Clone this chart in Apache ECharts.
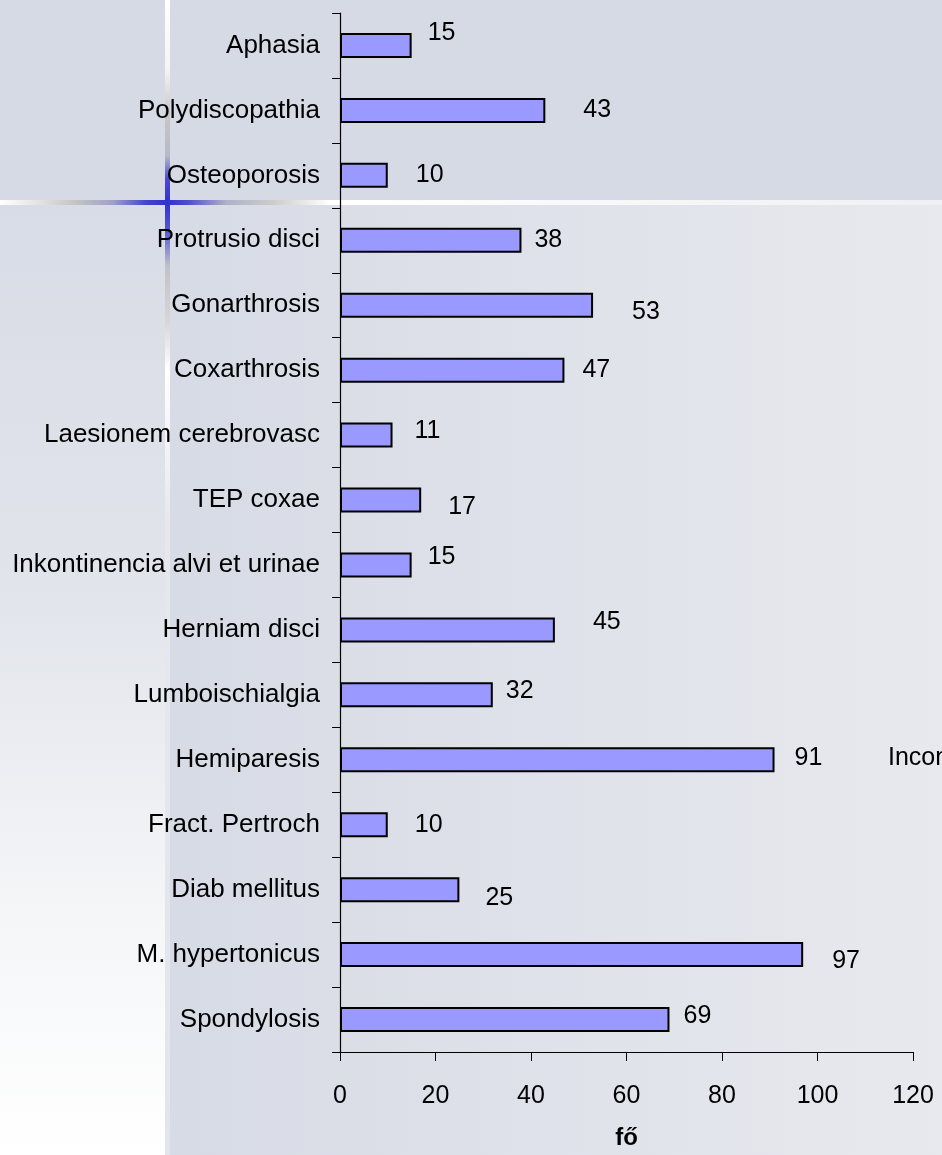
<!DOCTYPE html>
<html>
<head>
<meta charset="utf-8">
<script src="https://cdn.jsdelivr.net/npm/echarts@6/dist/echarts.min.js"></script>
<style>
  html, body { margin: 0; padding: 0; }
  #chart { width: 942px; height: 1155px; }
</style>
</head>
<body>
<div id="chart"></div>
<script>
// categories top to bottom
var categories = [
  'Aphasia', 'Polydiscopathia', 'Osteoporosis', 'Protrusio disci', 'Gonarthrosis',
  'Coxarthrosis', 'Laesionem cerebrovasc', 'TEP coxae', 'Inkontinencia alvi et urinae',
  'Herniam disci', 'Lumboischialgia', 'Hemiparesis', 'Fract. Pertroch', 'Diab mellitus',
  'M. hypertonicus', 'Spondylosis'
];
var values = [15, 43, 10, 38, 53, 47, 11, 17, 15, 45, 32, 91, 10, 25, 97, 69];
var xTicks = [0, 20, 40, 60, 80, 100, 120];
var axisTitle = 'fő';
var strayText = 'Incontinentia';

// label nudges (as in the original, labels sit at uneven spots)
var labelNudge = [
  [16, -12], [38, 0], [28, 0], [13, 0], [39, 7], [18, 0], [22, -4], [27, 7],
  [16, -8], [38, -8], [13, -4], [20, -2], [27, 0], [26, 8], [29, 7], [14, -3]
];

var font = 'Liberation Sans, Arial, sans-serif';

var barData = values.map(function (v, i) {
  return {
    value: v,
    label: { offset: labelNudge[i] }
  };
});

var chart = echarts.init(document.getElementById('chart'));
chart.setOption({
  animation: false,
  textStyle: { fontFamily: font },
  graphic: [
    // slide background
    { type: 'rect', z: -100, shape: { x: 0, y: 0, width: 942, height: 1155 }, style: { fill: '#d7dbe5' } },
    {
      type: 'rect', z: -99, shape: { x: 170, y: 205, width: 772, height: 950 },
      style: { fill: new echarts.graphic.LinearGradient(0, 0, 1, 0, [
        { offset: 0, color: '#d7dbe5' }, { offset: 0.5, color: '#dfe2ea' }, { offset: 1, color: '#e8e9ee' }
      ]) }
    },
    {
      type: 'rect', z: -99, shape: { x: 0, y: 205, width: 165, height: 950 },
      style: { fill: new echarts.graphic.LinearGradient(0, 0, 0, 1, [
        { offset: 0, color: '#d8dce6' }, { offset: 0.4, color: '#e1e4eb' }, { offset: 0.75, color: '#f5f6f8' }, { offset: 1, color: '#ffffff' }
      ]) }
    },
    {
      type: 'rect', z: -98, shape: { x: 0, y: 0, width: 942, height: 200 }, style: { fill: '#d6dae4' }
    },
    {
      type: 'rect', z: -97, shape: { x: 165, y: 0, width: 5, height: 1155 },
      style: { fill: new echarts.graphic.LinearGradient(0, 0, 0, 1, [
        { offset: 0, color: '#ffffff' }, { offset: 0.06, color: '#f4f4f4' }, { offset: 0.1, color: '#c6c6c6' },
        { offset: 0.135, color: '#b8b8c8' }, { offset: 0.155, color: '#4a4ad0' }, { offset: 0.175, color: '#3030d0' },
        { offset: 0.2, color: '#5656d0' }, { offset: 0.23, color: '#c0c0c8' }, { offset: 0.28, color: '#d8d8d8' },
        { offset: 0.32, color: '#ffffff' }, { offset: 0.45, color: '#e6e8ee' }, { offset: 1, color: '#e2e5ec' }
      ]) }
    },
    {
      type: 'rect', z: -96, shape: { x: 0, y: 200, width: 942, height: 5 },
      style: { fill: new echarts.graphic.LinearGradient(0, 0, 1, 0, [
        { offset: 0, color: '#ffffff' }, { offset: 0.04, color: '#e4e4e4' }, { offset: 0.08, color: '#c4c4c4' },
        { offset: 0.12, color: '#a0a0c8' }, { offset: 0.155, color: '#4444cc' }, { offset: 0.178, color: '#3030d0' },
        { offset: 0.2, color: '#5050cc' }, { offset: 0.24, color: '#b0b0c8' }, { offset: 0.29, color: '#cccccc' },
        { offset: 0.35, color: '#ffffff' }, { offset: 0.7, color: '#f6f7f9' }, { offset: 1, color: '#eff0f3' }
      ]) }
    },
    {
      type: 'text', z: 10, left: 888, top: 746,
      style: { text: strayText, fill: '#000', font: '25px ' + font }
    }
  ],
  grid: { left: 340, right: 29, top: 13, bottom: 102, containLabel: false },
  xAxis: {
    type: 'value',
    min: xTicks[0],
    max: xTicks[xTicks.length - 1],
    interval: xTicks[1] - xTicks[0],
    name: axisTitle,
    nameLocation: 'middle',
    nameGap: 74,
    nameTextStyle: { color: '#000', fontSize: 24, fontWeight: 'bold', fontFamily: font },
    axisLine: { show: true, lineStyle: { color: '#000', width: 1.2 } },
    axisTick: { show: true, length: 9, lineStyle: { color: '#000' } },
    axisLabel: { color: '#000', fontSize: 25, margin: 32, fontFamily: font },
    splitLine: { show: false }
  },
  yAxis: {
    type: 'category',
    data: categories,
    inverse: true,
    axisLine: { show: true, lineStyle: { color: '#000', width: 1.2 } },
    axisTick: { show: true, length: 8, lineStyle: { color: '#000' } },
    axisLabel: { color: '#000', fontSize: 26, margin: 20, fontFamily: font },
    splitLine: { show: false }
  },
  series: [
    {
      type: 'bar',
      data: barData,
      barWidth: 25,
      itemStyle: { color: '#9999ff', borderColor: '#000', borderWidth: 2 },
      label: {
        show: true,
        position: 'right',
        distance: 0,
        color: '#000',
        fontSize: 25,
        fontFamily: font
      }
    }
  ]
});
</script>
</body>
</html>
